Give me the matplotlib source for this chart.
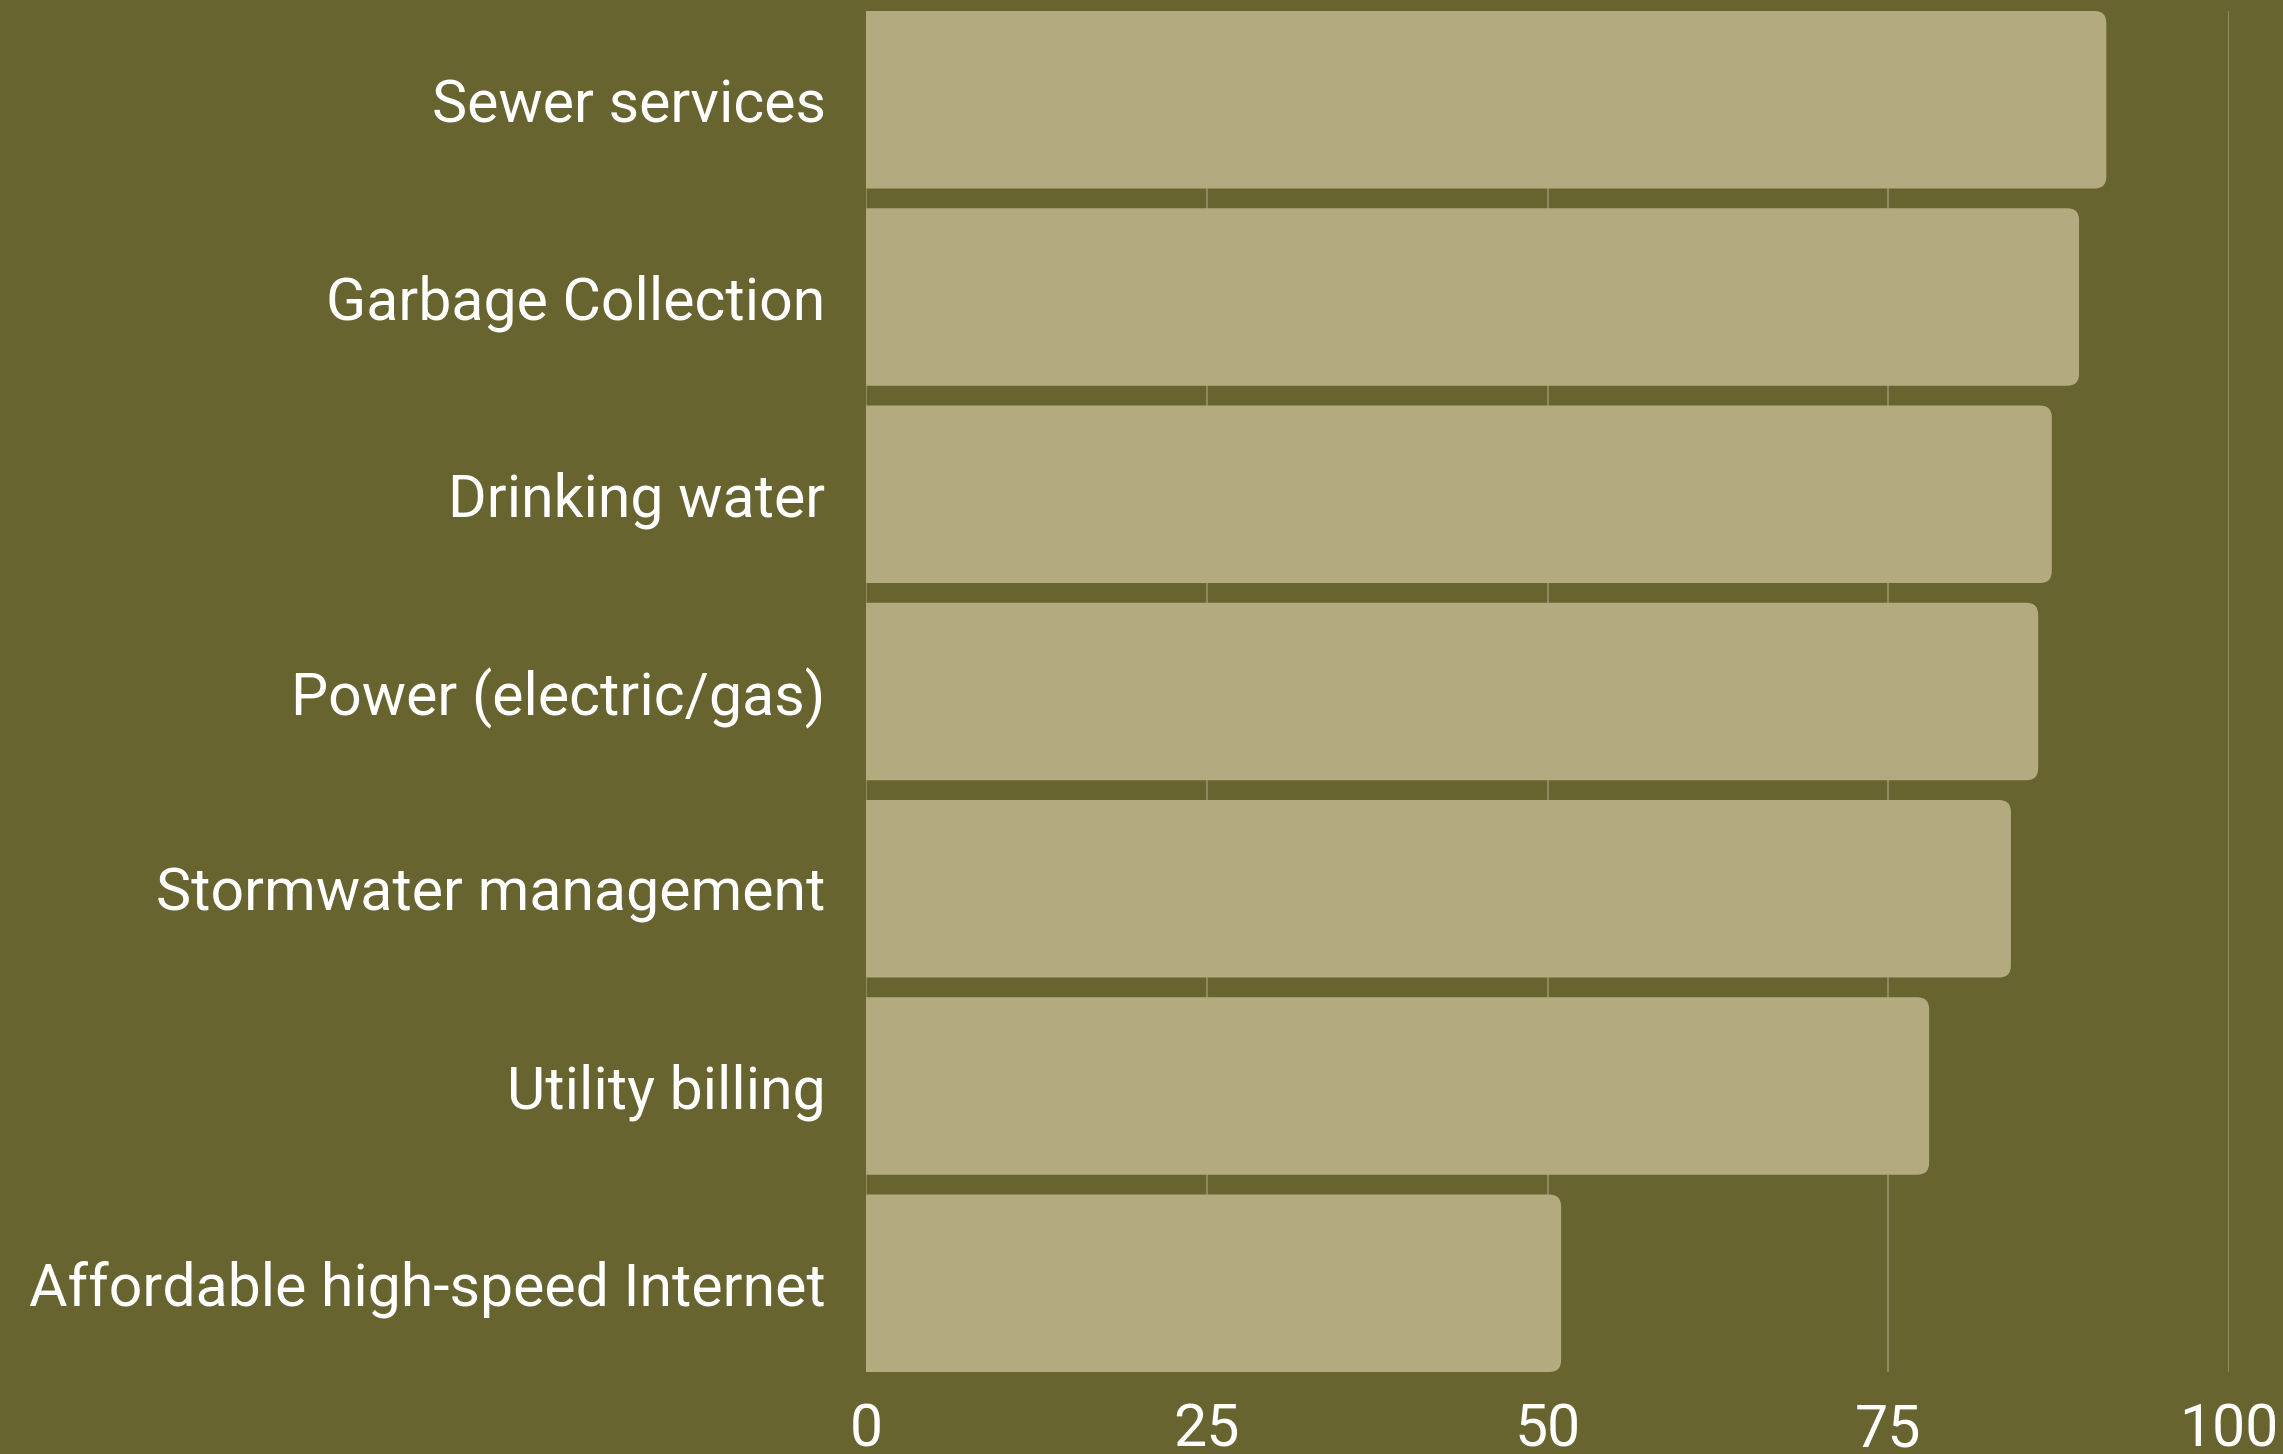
import matplotlib
matplotlib.use('Agg')
import matplotlib.pyplot as plt
from matplotlib.patches import FancyBboxPatch

# survey results, % of respondents
services = ['Sewer services', 'Garbage Collection', 'Drinking water',
            'Power (electric/gas)', 'Stormwater management',
            'Utility billing', 'Affordable high-speed Internet']
values = [91, 89, 87, 86, 84, 78, 51]
xticks = [0, 25, 50, 75, 100]

BG = '#676430'
BAR = '#b3aa7f'
GRID = '#8c895e'

plt.rcParams['font.family'] = ['Roboto', 'DejaVu Sans']

W, H, DPI = 2283, 1454, 100
fig = plt.figure(figsize=(W / DPI, H / DPI), dpi=DPI, facecolor=BG)
ax = fig.add_axes([866 / W, 1 - 1372 / H, (2229 - 866) / W, (1372 - 11) / H])
ax.set_facecolor(BG)

ypos = list(range(len(services)))
bars = ax.barh(ypos, values, height=0.9, color=BAR, zorder=2)
ax.set_xlim(0, 100)
ax.set_ylim(len(services) - 0.55, -0.45)

# swap plain bars for ones with rounded right-hand corners
px_x = ax.get_position().width * W / 100.0
px_y = ax.get_position().height * H / 6.9
r = 12 / px_x
for b in bars:
    b.set_visible(False)
    p = FancyBboxPatch((-3, b.get_y()), b.get_width() + 3, b.get_height(),
                       boxstyle='round,pad=0,rounding_size=%f' % r,
                       mutation_aspect=px_x / px_y,
                       facecolor=BAR, edgecolor='none', zorder=2)
    ax.add_patch(p)

ax.set_yticks(ypos)
ax.set_yticklabels(services)
ax.set_xticks(xticks)
ax.set_xticklabels([str(t) for t in xticks])
ax.tick_params(axis='y', length=0, pad=29, labelsize=42.5, labelcolor='white')
ax.tick_params(axis='x', length=0, pad=21, labelsize=42.5, labelcolor='white')
ax.grid(axis='x', color=GRID, linewidth=1.5, zorder=0)
ax.set_axisbelow(True)
for s in ax.spines.values():
    s.set_visible(False)

fig.savefig('out.png', dpi=DPI, facecolor=BG)
